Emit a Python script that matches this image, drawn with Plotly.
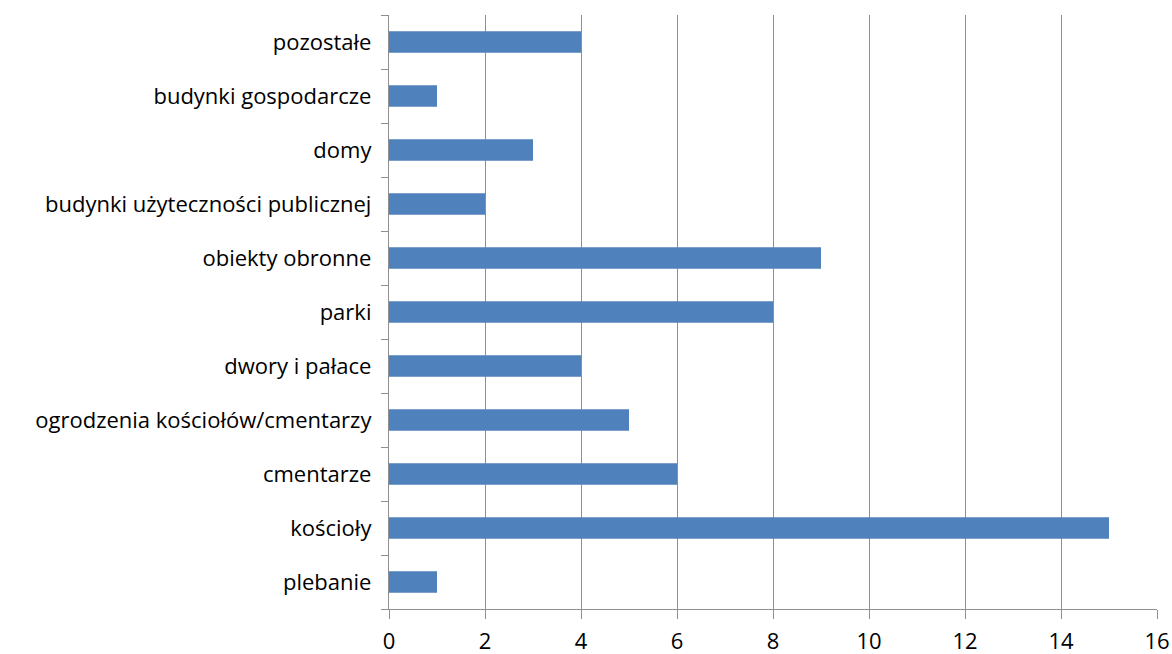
import plotly.graph_objects as go

categories = ["plebanie", "kościoły", "cmentarze", "ogrodzenia kościołów/cmentarzy",
              "dwory i pałace", "parki", "obiekty obronne",
              "budynki użyteczności publicznej", "domy", "budynki gospodarcze", "pozostałe"]
values = [1, 15, 6, 5, 4, 8, 9, 2, 3, 1, 4]
x_ticks = [0, 2, 4, 6, 8, 10, 12, 14, 16]

grid = "#8f8f8f"
fig = go.Figure(go.Bar(
    x=values, y=categories, orientation="h",
    marker=dict(color="#4F81BD", line=dict(width=0)),
    width=0.4,
))
fig.update_layout(
    width=1172, height=654,
    margin=dict(l=389, r=15, t=15, b=45, autoexpand=False),
    paper_bgcolor="white", plot_bgcolor="white",
    font=dict(family="Open Sans", size=22, color="#000000"),
    showlegend=False,
)
fig.update_xaxes(
    range=[0, 16], tickvals=x_ticks, ticktext=[str(t) for t in x_ticks],
    showgrid=True, gridcolor=grid, gridwidth=1.3,
    showline=True, linecolor=grid, linewidth=1.3,
    ticks="outside", ticklen=9, tickcolor=grid, tickwidth=1.3,
    zeroline=False, ticklabelstandoff=3, automargin=False,
)
fig.update_yaxes(
    type="category", categoryorder="array", categoryarray=categories,
    tickson="boundaries", ticks="outside", ticklen=7, tickcolor=grid, tickwidth=1.3,
    showgrid=False, showline=True, linecolor=grid, linewidth=1.3,
    ticklabelstandoff=12, automargin=False,
)
fig.write_html("out.html", config={"displayModeBar": False},
               post_script="document.body.style.margin='0';document.body.style.overflow='hidden';")
